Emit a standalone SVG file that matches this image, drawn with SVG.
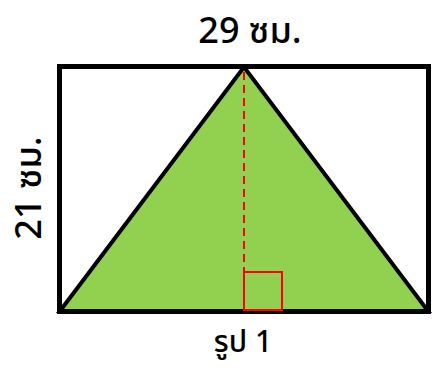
<svg xmlns="http://www.w3.org/2000/svg" width="433" height="369" viewBox="0 0 433 369">
<style>
.lbl{font-family:"Noto Sans Thai","Noto Sans","DejaVu Sans",sans-serif;fill:#000;text-anchor:middle;font-weight:500}
</style>
<rect width="433" height="369" fill="#fff"/>
<g id="triangle">
<polygon points="60,311 244,67 428,311" fill="#92D050" stroke="#000" stroke-width="4" stroke-linejoin="miter"/>
</g>
<g id="rectangle">
<rect x="59.5" y="66.5" width="369" height="245" fill="none" stroke="#000" stroke-width="5"/>
</g>
<g id="connectors">
<line x1="244" y1="72" x2="244" y2="309" stroke="#f00" stroke-width="2" stroke-dasharray="8,5"/>
<rect x="244" y="272" width="38" height="38" fill="none" stroke="#f00" stroke-width="2"/>
</g>
<g id="labels">
<text class="lbl" x="250" y="43" font-size="36">29 ซม.</text>
<text class="lbl" x="0" y="0" font-size="36" transform="translate(41,188) rotate(-90)">21 ซม.</text>
<text class="lbl" x="243" y="352" font-size="30">รูป 1</text>
</g>
</svg>
